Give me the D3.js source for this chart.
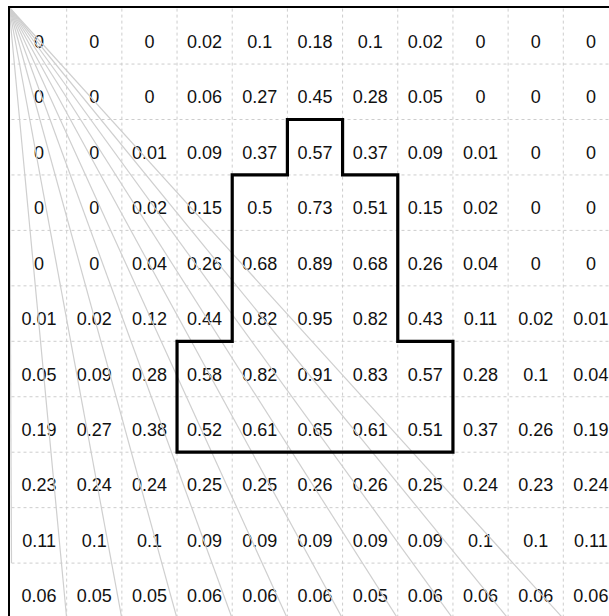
<!DOCTYPE html>
<html>
    <head>
        <title></title>
        <style>
         body { margin: 0; background: #fff; }
         .grid line { stroke: #cdcdcd; stroke-width: 1; stroke-dasharray: 3,3; }
         .rays line { stroke: #cfcfcf; stroke-width: 1.2; }
         .cells text { font-family: "Liberation Sans", Arial, sans-serif; font-size: 18px; fill: #111; text-anchor: middle; }
        </style>
    </head>
    <body>
        <svg width="609" height="616"></svg>

        <script src="https://cdn.jsdelivr.net/npm/d3@7"></script>
        <script>

         // cell values, one array per row (top to bottom)
         var row1  = [0, 0, 0, 0.02, 0.1, 0.18, 0.1, 0.02, 0, 0, 0];
         var row2  = [0, 0, 0, 0.06, 0.27, 0.45, 0.28, 0.05, 0, 0, 0];
         var row3  = [0, 0, 0.01, 0.09, 0.37, 0.57, 0.37, 0.09, 0.01, 0, 0];
         var row4  = [0, 0, 0.02, 0.15, 0.5, 0.73, 0.51, 0.15, 0.02, 0, 0];
         var row5  = [0, 0, 0.04, 0.26, 0.68, 0.89, 0.68, 0.26, 0.04, 0, 0];
         var row6  = [0.01, 0.02, 0.12, 0.44, 0.82, 0.95, 0.82, 0.43, 0.11, 0.02, 0.01];
         var row7  = [0.05, 0.09, 0.28, 0.58, 0.82, 0.91, 0.83, 0.57, 0.28, 0.1, 0.04];
         var row8  = [0.19, 0.27, 0.38, 0.52, 0.61, 0.65, 0.61, 0.51, 0.37, 0.26, 0.19];
         var row9  = [0.23, 0.24, 0.24, 0.25, 0.25, 0.26, 0.26, 0.25, 0.24, 0.23, 0.24];
         var row10 = [0.11, 0.1, 0.1, 0.09, 0.09, 0.09, 0.09, 0.09, 0.1, 0.1, 0.11];
         var row11 = [0.06, 0.05, 0.05, 0.06, 0.06, 0.06, 0.05, 0.06, 0.06, 0.06, 0.06];
         var rows = [row1, row2, row3, row4, row5, row6, row7, row8, row9, row10, row11];

         // outline of the region, in grid units [col, row]
         var outline = [[5, 2], [6, 2], [6, 3], [7, 3], [7, 6], [8, 6], [8, 8],
                        [3, 8], [3, 6], [4, 6], [4, 3], [5, 3]];

         // ray end points from the top-left corner, in grid units [col, row]
         var rayEnds = [[0, 10], [1, 11], [2, 11], [3, 11], [4, 11], [5, 11],
                        [6, 11], [7, 11], [8, 11], [9, 11], [10, 11]];

         var svg = d3.select('svg');
         var n = 11;

         var x = d3.scaleLinear().domain([0, n]).range([11.5, 11.5 + n * 55.18]);
         var y = d3.scaleLinear().domain([0, n]).range([8.6, 8.6 + n * 55.45]);
         var cornerX = 9, cornerY = 7;

         /*
          * dashed grid
          */
         var grid = svg.append('g').attr('class', 'grid');
         grid.selectAll('line.v')
             .data(d3.range(1, n + 1))
             .enter().append('line')
             .attr('class', 'v')
             .attr('x1', function(d) { return x(d); })
             .attr('x2', function(d) { return x(d); })
             .attr('y1', y(0))
             .attr('y2', y(n));
         grid.selectAll('line.h')
             .data(d3.range(1, n + 1))
             .enter().append('line')
             .attr('class', 'h')
             .attr('x1', x(0))
             .attr('x2', x(n))
             .attr('y1', function(d) { return y(d); })
             .attr('y2', function(d) { return y(d); });

         // cell labels
         var cells = [];
         rows.forEach(function(r, i) {
             r.forEach(function(v, j) { cells.push({ r: i, c: j, v: v }); });
         });
         svg.append('g')
            .attr('class', 'cells')
            .selectAll('text')
            .data(cells)
            .enter().append('text')
            .attr('x', function(d) { return x(d.c + 0.5); })
            .attr('y', function(d) { return y(d.r + 0.5) + 11.5; })
            .text(function(d) { return String(d.v); });

         // rays
         svg.append('g')
            .attr('class', 'rays')
            .selectAll('line')
            .data(rayEnds)
            .enter().append('line')
            .attr('x1', cornerX)
            .attr('y1', cornerY)
            .attr('x2', function(d) { return x(d[0]); })
            .attr('y2', function(d) { return y(d[1]); });

         // frame
         svg.append('rect')
            .attr('x', cornerX)
            .attr('y', cornerY)
            .attr('width', 640)
            .attr('height', 640)
            .attr('fill', 'none')
            .attr('stroke', '#000')
            .attr('stroke-width', 2);

         // outline
         svg.append('path')
            .datum(outline)
            .attr('d', d3.line()
                         .x(function(d) { return x(d[0]); })
                         .y(function(d) { return y(d[1]); })
                         .curve(d3.curveLinearClosed))
            .attr('fill', 'none')
            .attr('stroke', '#000')
            .attr('stroke-width', 3.2)
            .attr('stroke-linejoin', 'miter');

        </script>
    </body>
</html>
